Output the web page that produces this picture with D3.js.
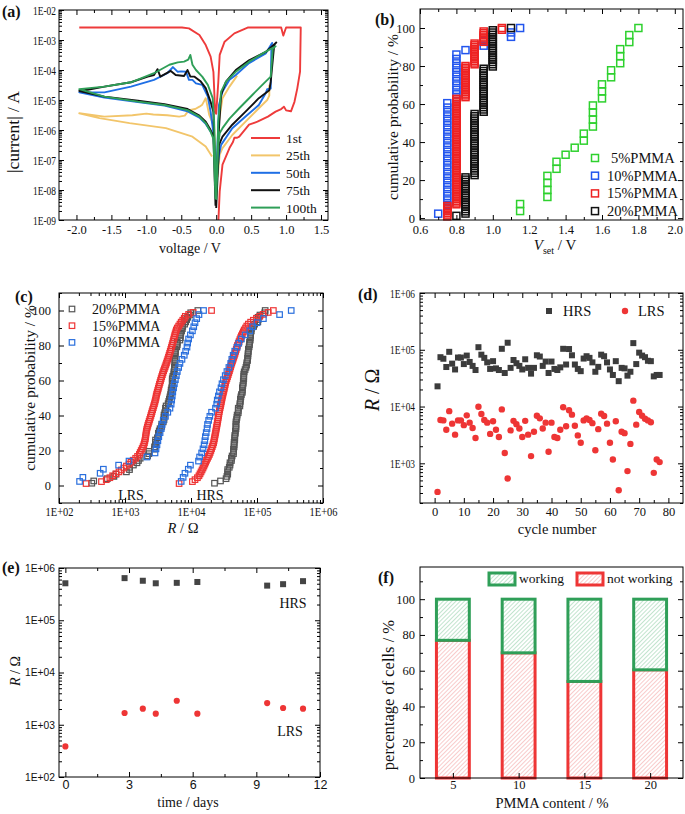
<!DOCTYPE html>
<html><head><meta charset="utf-8">
<script src="https://cdn.jsdelivr.net/npm/d3@7/dist/d3.min.js"></script>
<style>body{margin:0;background:#fff}</style>
</head><body><svg id="c" width="685" height="814" xmlns="http://www.w3.org/2000/svg"></svg>
<script>
// ---------------- DATA ----------------
// (a) I-V curves [V, |I|]
const iv1st = [[[-1.96,2.6e-3],[-0.49,2.6e-3],[-0.39,2.45e-3],[-0.24,1.47e-3],[-0.15,6.8e-4],[-0.08,2.8e-4],[-0.04,8.7e-5],[-0.015,4e-6],[0.0,3.5e-6],[0.03,4e-5],[0.05,3.2e-4],[0.12,8.8e-4],[0.26,1.66e-3],[0.45,2.6e-3],[0.93,2.6e-3],[0.96,1.4e-3],[1.0,2.6e-3],[1.21,2.6e-3],[1.2,8.8e-5],[1.16,2.4e-5],[1.12,8.7e-6],[1.07,4.2e-6],[1.0,4.5e-6],[0.97,6e-6],[0.93,5e-6],[0.85,4.1e-6],[0.74,2.8e-6],[0.59,1.9e-6],[0.47,1.5e-6],[0.33,6e-7],[0.3,5.5e-7],[0.26,5.5e-7],[0.24,4e-7],[0.19,2.5e-7],[0.09,7e-8],[0.05,9e-9],[0.03,8e-10]]];
const iv25th = [
 [[0.0,2e-8],[-0.03,1.3e-6],[-0.1,3.2e-6],[-0.15,1.15e-5],[-0.2,7e-6],[-0.24,6e-6],[-0.3,5e-6],[-0.39,4.6e-6],[-0.45,3e-6],[-0.53,2.8e-6],[-0.7,3.1e-6],[-0.9,3.3e-6],[-1.0,3.5e-6],[-1.2,3.1e-6],[-1.6,2.8e-6],[-1.96,3.6e-6],[-1.67,2.5e-6],[-1.24,1.7e-6],[-0.72,1.15e-6],[-0.34,6e-7],[-0.15,2.8e-7],[-0.06,1.3e-7]],
 [[0.0,2e-8],[0.02,3e-8],[0.05,1.5e-7],[0.09,2.5e-7],[0.23,6.8e-7],[0.42,1.9e-6],[0.61,5.3e-6],[0.73,1e-5],[0.76,1.4e-5],[0.76,3.2e-5]],
 [[0.01,5e-8],[0.04,2e-6],[0.09,1.15e-5],[0.19,2.8e-5],[0.3,6.5e-5]]
];
const iv50th = [[[0.005,2e-8],[0.04,1.5e-7],[0.07,3.2e-7],[0.23,1.15e-6],[0.42,2.8e-6],[0.61,6.8e-6],[0.71,1.7e-5],[0.73,2.3e-5],[0.78,2.4e-5],[0.79,6e-4],[0.8,8e-4],[0.71,3.6e-4],[0.47,1.7e-4],[0.28,6.8e-5],[0.19,4.7e-5],[0.09,1.9e-5],[0.04,6.9e-6],[0.01,1e-7],[-0.01,5e-8],[-0.04,8e-7],[-0.08,4e-6],[-0.12,1.3e-5],[-0.2,3.2e-5],[-0.29,3.6e-5],[-0.34,4.7e-5],[-0.39,4.7e-5],[-0.43,8.7e-5],[-0.5,9e-5],[-0.55,8.7e-5],[-0.62,1.25e-4],[-0.7,7.8e-5],[-0.89,4.7e-5],[-1.22,2.8e-5],[-1.6,1.8e-5],[-1.96,1.8e-5],[-1.6,1.2e-5],[-1.12,8.5e-6],[-0.74,6.5e-6],[-0.41,4.2e-6],[-0.24,2.6e-6],[-0.15,1.6e-6],[-0.08,9e-7],[-0.04,7e-7],[-0.01,3e-8]]];
const iv75th = [[[0.0,2.5e-9],[0.02,3e-8],[0.04,3.2e-7],[0.09,6e-7],[0.23,1.5e-6],[0.42,4.1e-6],[0.61,1.15e-5],[0.76,2.1e-5],[0.78,4e-5],[0.83,6.8e-4],[0.86,8.3e-4],[0.71,4e-4],[0.47,2.1e-4],[0.28,1e-4],[0.14,4.1e-5],[0.07,1.5e-5],[0.03,5e-7],[0.0,3e-9],[-0.04,4e-6],[-0.08,8.7e-6],[-0.15,2.5e-5],[-0.22,4.1e-5],[-0.31,6e-5],[-0.37,6e-5],[-0.41,1e-4],[-0.46,6.3e-5],[-0.58,6.8e-5],[-0.65,9.3e-5],[-0.8,6e-5],[-0.84,1.07e-4],[-0.89,6.8e-5],[-0.98,6e-5],[-1.22,3.9e-5],[-1.6,2.8e-5],[-1.84,2.2e-5],[-1.96,2e-5],[-1.6,1.3e-5],[-1.12,9.5e-6],[-0.74,7.2e-6],[-0.41,5e-6],[-0.24,3e-6],[-0.15,1.9e-6],[-0.08,1e-6],[-0.04,6e-7],[-0.01,3e-9]]];
const iv100th = [[[0.0,5e-9],[0.03,3.2e-7],[0.05,8e-7],[0.09,1.15e-6],[0.19,2.4e-6],[0.33,5.3e-6],[0.52,1.5e-5],[0.66,3.2e-5],[0.78,6e-5],[0.81,5.2e-4],[0.85,6.2e-4],[0.71,4.1e-4],[0.47,1.9e-4],[0.28,8.7e-5],[0.14,4.1e-5],[0.07,1.9e-5],[0.03,1.9e-6],[0.0,5e-9],[-0.03,2e-6],[-0.05,1.15e-5],[-0.12,3.2e-5],[-0.2,6e-5],[-0.29,1e-4],[-0.34,1.5e-4],[-0.37,3.2e-4],[-0.4,2.2e-4],[-0.46,1.9e-4],[-0.55,1.8e-4],[-0.67,1.5e-4],[-0.89,7.8e-5],[-1.22,3.9e-5],[-1.6,2.8e-5],[-1.96,2.3e-5],[-1.6,1.3e-5],[-1.12,8.8e-6],[-0.74,6.8e-6],[-0.41,4.6e-6],[-0.24,2.8e-6],[-0.15,1.7e-6],[-0.08,8.7e-7],[-0.04,5e-7],[-0.01,5e-9]]];
const ivNames = ["1st","25th","50th","75th","100th"];

// (b) set-voltage histograms (value, number of cells)
const vset5Values = [1.15,1.3,1.35,1.4,1.45,1.5,1.55,1.6,1.65,1.7,1.75,1.8];
const vset5Counts = [2,4,2,1,1,2,4,3,2,3,2,1];
const vset10Values = [0.7,0.75,0.8,0.85,0.95,1.1,1.15];
const vset10Counts = [1,25,11,1,2,2,1];
const vset15Values = [0.75,0.8,0.85,0.9,0.95,1.05];
const vset15Counts = [7,62,19,13,7,2];
const vset20Values = [0.8,0.85,0.9,0.95,1.0,1.1];
const vset20Counts = [1,17,28,20,17,1];

// (d) resistance vs cycle (20% PMMA)
const hrsCycle = [22700,74000,69500,49700,92000,57000,45000,73000,73000,56000,79000,61000,52000,44000,111000,82000,72000,60000,46000,63000,47000,44000,104000,39000,133000,48000,66000,58000,52000,45000,68000,48000,38000,48000,80000,76000,52000,62000,39000,62000,46000,44000,49000,104000,55000,103000,80000,55000,46000,42000,70000,77000,72000,60000,41000,50000,82000,77000,60000,45000,36000,63000,28000,48000,47000,35000,41000,131000,56000,89000,79000,74000,64000,63000,34000,36000,36000];
const lrsCycle = [314,5800,5700,3900,8300,5000,3200,5700,5700,4700,7000,5200,4200,2800,9900,7400,5800,5200,3300,5500,3900,2900,8900,1520,540,3800,5600,4900,4100,2900,5600,3200,1340,3600,6900,6200,4100,5200,1600,5200,2900,2800,3900,9700,4500,8600,7200,4600,3100,2300,5700,6200,5800,5100,1700,4000,7500,6800,5000,2300,1170,5500,336,3600,3400,730,2200,12700,4800,8000,6900,6100,5700,5300,680,1170,1050];

// (c) measured resistances, sorted (10% and 15% PMMA)
const lrs10 = [205,230,420,470,800,1150,2150,2850,2950,3050,3150,3250,3400,3550,3650,3800,4100,4450,4800,5000,5100,5200,5300,5450,5600,5800,6000,6200,6500,6800,7300,7900,8300,8700,8900,9200,9800,10500,11000,11500,12200,13200,15500];
const hrs10 = [7100,7600,8100,9100,9800,13000,13500,14500,15200,15800,16200,16500,17000,17500,17800,18500,19300,20500,23500,24500,25000,26000,27000,28500,29500,31000,33000,35000,37500,40000,41500,43500,46000,50000,53000,58000,66000,78000,86000,100000,125000,220000,330000];
const lrs15 = [257,440,520,590,650,730,810,880,960,1050,1150,1230,1330,1450,1550,1650,1700,1760,1820,1880,1930,1970,2000,2030,2050,2070,2090,2110,2140,2180,2220,2270,2320,2370,2420,2470,2520,2570,2620,2680,2730,2790,2840,2890,2940,2970,3020,3080,3140,3200,3260,3320,3390,3460,3530,3600,3680,3760,3850,3950,4050,4150,4250,4350,4450,4550,4650,4750,4850,4950,5050,5150,5250,5350,5450,5550,5650,5750,5880,6000,6200,6500,6800,7100,7500,7900,8200,9200,10800,20500];
const hrs15 = [6600,10500,11500,12500,13200,13700,14200,14700,15200,15700,16200,16700,17200,17800,18400,19000,19500,20000,20500,21000,21500,22000,22300,22600,22900,23200,23500,23800,24100,24400,24700,25000,25300,25600,25900,26200,26500,26800,27200,27600,28000,28400,28800,29200,29600,30000,30500,31000,31500,32000,32500,33000,33500,34200,35000,35800,36600,37400,38200,39000,39800,40600,41500,42500,43500,44500,45500,46500,47500,48500,49500,50500,52000,53500,55000,56500,58000,60000,62000,64000,67000,70000,74000,80000,88000,98000,110000,124000,148000,177000];

// (e) retention
const retDays = [0,2.79,3.65,4.26,5.25,6.22,9.51,10.26,11.2];
const retHRS = [510000,640000,570000,510000,520000,540000,460000,490000,560000];
const retLRS = [385,1680,2030,1630,2880,1630,2600,2090,2030];

// (f) yield
const pmmaContent = [5,10,15,20];
const notWorking = [77,70,54,60.5];
const working = [23,30,46,39.5];

// ---------------- DRAWING ----------------
const SERIF = "Liberation Serif, Times New Roman, serif";
const SANS = "Liberation Sans, Arial, sans-serif";
const svg = d3.select("#c");
svg.append("rect").attr("width",685).attr("height",814).attr("fill","#fff");
const defs = svg.append("defs");

function logFmt(v){const e=Math.round(Math.log10(v));return "1E"+(e<0?"-":"+")+String(Math.abs(e)).padStart(2,"0");}
function logMajor(s){return s.ticks().filter(v=>Math.abs(Math.log10(v)-Math.round(Math.log10(v)))<1e-9);}
function logMinor(s){return s.ticks().filter(v=>Math.abs(Math.log10(v)-Math.round(Math.log10(v)))>1e-9);}
const fix1 = d => d.toFixed(1);

function drawAxes(x,y,o){
  const [x0,x1]=x.range(), [yb,yt]=y.range();
  const g=svg.append("g");
  const add=(axis,tx,ty)=>{const a=g.append("g").attr("transform",`translate(${tx},${ty})`).call(axis);
    a.select(".domain").remove(); a.selectAll("line").attr("stroke","#000").attr("stroke-width",1); return a;};
  const xb=add(d3.axisBottom(x).tickValues(o.xMajor).tickSize(-5).tickPadding(o.xPad||5).tickFormat(o.xFmt),0,yb);
  add(d3.axisBottom(x).tickValues(o.xMinor||[]).tickSize(-3).tickFormat(""),0,yb);
  if(!o.noTop){
    add(d3.axisTop(x).tickValues(o.xMajor).tickSize(-5).tickFormat(""),0,yt);
    add(d3.axisTop(x).tickValues(o.xMinor||[]).tickSize(-3).tickFormat(""),0,yt);
  }
  const yl=add(d3.axisLeft(y).tickValues(o.yMajor).tickSize(-5).tickPadding(o.yPad||4).tickFormat(o.yFmt),x0,0);
  add(d3.axisLeft(y).tickValues(o.yMinor||[]).tickSize(-3).tickFormat(""),x0,0);
  add(d3.axisRight(y).tickValues(o.yMajor).tickSize(-5).tickFormat(""),x1,0);
  add(d3.axisRight(y).tickValues(o.yMinor||[]).tickSize(-3).tickFormat(""),x1,0);
  g.append("rect").attr("x",x0).attr("y",yt).attr("width",x1-x0).attr("height",yb-yt).attr("fill","none").attr("stroke","#000").attr("stroke-width",1);
  xb.selectAll("text").attr("font-family",o.xFont||SERIF).attr("font-size",o.xSize||12.5).attr("fill","#111");
  yl.selectAll("text").attr("font-family",o.yFont||SERIF).attr("font-size",o.ySize||12.5).attr("fill","#111");
  if(o.xLen) xb.selectAll("text").attr("textLength",o.xLen).attr("lengthAdjust","spacingAndGlyphs");
  if(o.yLen) yl.selectAll("text").attr("textLength",o.yLen).attr("lengthAdjust","spacingAndGlyphs");
  return g;
}
function label(t,x,y,size,opts={}){
  const el=svg.append("text").attr("x",x).attr("y",y).attr("font-family",opts.font||SERIF).attr("font-size",size)
   .attr("fill","#111").attr("text-anchor",opts.anchor||"start").text(t);
  if(opts.bold) el.attr("font-weight","bold");
  if(opts.rotate) el.attr("transform",`rotate(-90,${x},${y})`);
  return el;
}
function rLabel(x,y,size,rotate){
  const el=svg.append("text").attr("x",x).attr("y",y).attr("font-family",SERIF).attr("font-size",size).attr("fill","#111").attr("text-anchor","middle");
  if(rotate) el.attr("transform",`rotate(-90,${x},${y})`);
  el.append("tspan").attr("font-style","italic").text("R");
  el.append("tspan").text(" / Ω");
}
function clip(id,x,y){const [x0,x1]=x.range(),[yb,yt]=y.range();
  defs.append("clipPath").attr("id",id).append("rect").attr("x",x0).attr("y",yt).attr("width",x1-x0).attr("height",yb-yt);}
function cumul(values,counts){const N=d3.sum(counts);let c=0;const out=[];
  values.forEach((v,i)=>{for(let k=0;k<counts[i];k++){c++;out.push([v,c/N*100]);}});return out;}
function cumulSorted(arr){const s=arr.slice().sort((a,b)=>a-b);return s.map((v,i)=>[v,(i+1)/s.length*100]);}

// ---------- (a) ----------
{
 const x=d3.scaleLinear([-2.25,1.6],[59,328]);
 const y=d3.scaleLog([1e-9,1e-2],[220,10]);
 clip("clipA",x,y);
 const cols=["#ee3b3b","#f2c56a","#1f6fe5","#111111","#2f9f58"];
 const sets=[iv1st,iv25th,iv50th,iv75th,iv100th];
 const line=d3.line().x(d=>x(d[0])).y(d=>y(Math.max(d[1],1e-10)));
 const gp=svg.append("g").attr("clip-path","url(#clipA)");
 sets.forEach((segs,i)=>segs.forEach(s=>gp.append("path").attr("d",line(s)).attr("fill","none").attr("stroke",cols[i]).attr("stroke-width",1.9).attr("stroke-linejoin","round")));
 drawAxes(x,y,{xMajor:[-2,-1.5,-1,-0.5,0,0.5,1,1.5],xMinor:[-1.75,-1.25,-0.75,-0.25,0.25,0.75,1.25],xFmt:fix1,
   yMajor:logMajor(y),yMinor:logMinor(y),yFmt:logFmt,ySize:12.5,yLen:23,yPad:3,xSize:12.5});
 ivNames.forEach((n,i)=>{const yy=138+i*17.4;
   svg.append("line").attr("x1",251).attr("x2",280).attr("y1",yy).attr("y2",yy).attr("stroke",cols[i]).attr("stroke-width",2);
   label(n,286,yy+5,13.5);});
 label("voltage / V",190,253,14,{anchor:"middle"});
 label("|current| / A",19,132,17.5,{anchor:"middle",rotate:true});
 label("(a)",2,17,16,{bold:true});
}
// ---------- (b) ----------
{
 const x=d3.scaleLinear([0.6,2.045],[420,683]);
 const y=d3.scaleLinear([-1,110],[220,9]);
 const cols=["#2ed12e","#2255ee","#ee2222","#111111"];
 const sets=[cumul(vset5Values,vset5Counts),cumul(vset10Values,vset10Counts),cumul(vset15Values,vset15Counts),cumul(vset20Values,vset20Counts)];
 const s=7;
 sets.forEach((pts,i)=>svg.append("g").selectAll("rect").data(pts).join("rect")
   .attr("x",d=>x(d[0])-s/2).attr("y",d=>y(d[1])-s/2).attr("width",s).attr("height",s)
   .attr("fill","none").attr("stroke",cols[i]).attr("stroke-width",1.5));
 drawAxes(x,y,{xMajor:[0.6,0.8,1.0,1.2,1.4,1.6,1.8,2.0],xMinor:[0.7,0.9,1.1,1.3,1.5,1.7,1.9],xFmt:fix1,
   yMajor:[0,20,40,60,80,100],yMinor:[10,30,50,70,90],yFmt:d3.format("d"),yPad:5,xSize:12.5,ySize:12.5});
 ["5%PMMA","10%PMMA","15%PMMA","20%PMMA"].forEach((n,i)=>{const yy=158+i*17.7;
   svg.append("rect").attr("x",595-s/2).attr("y",yy-s/2).attr("width",s).attr("height",s).attr("fill","none").attr("stroke",cols[i]).attr("stroke-width",1.5);
   label(n,i==0?611:607,yy+5,14.5);});
 const t=svg.append("text").attr("x",555).attr("y",250).attr("font-family",SERIF).attr("font-size",15).attr("fill","#111").attr("text-anchor","middle");
 t.append("tspan").attr("font-style","italic").text("V");
 t.append("tspan").attr("font-size",10).attr("dy",4).text("set");
 t.append("tspan").attr("dy",-4).text(" / V");
 label("cumulative probability / %",398,117,15.5,{anchor:"middle",rotate:true});
 label("(b)",375,25,16,{bold:true});
}
// ---------- (c) ----------
{
 const x=d3.scaleLog([1e2,1e6],[59,323]);
 const y=d3.scaleLinear([-10,110],[503,293]);
 const cols=["#555555","#ee3535","#2a6fdd"];
 const sets=[[cumulSorted(lrsCycle),cumulSorted(hrsCycle)],[cumulSorted(lrs15),cumulSorted(hrs15)],[cumulSorted(lrs10),cumulSorted(hrs10)]];
 const s=5.5;
 sets.forEach((pair,i)=>pair.forEach(pts=>svg.append("g").selectAll("rect").data(pts).join("rect")
   .attr("x",d=>x(d[0])-s/2).attr("y",d=>y(d[1])-s/2).attr("width",s).attr("height",s)
   .attr("fill","none").attr("stroke",cols[i]).attr("stroke-width",1.2)));
 drawAxes(x,y,{xMajor:logMajor(x),xMinor:logMinor(x),xFmt:logFmt,xSize:12.5,xLen:28,xPad:4,
   yMajor:[0,20,40,60,80,100],yMinor:[-10,10,30,50,70,90,110],yFmt:d3.format("d"),yPad:8,ySize:12.5});
 ["20%PMMA","15%PMMA","10%PMMA"].forEach((n,i)=>{const yy=309+i*16.7;
   svg.append("rect").attr("x",72-s/2).attr("y",yy-s/2).attr("width",s).attr("height",s).attr("fill","none").attr("stroke",cols[i]).attr("stroke-width",1.2);
   label(n,92,yy+5,14);});
 label("LRS",131,500,14,{anchor:"middle"});
 label("HRS",210,500,14,{anchor:"middle"});
 rLabel(183,533,14.5,false);
 label("cumulative probability / %",35,388,15.5,{anchor:"middle",rotate:true});
 label("(c)",15,302,16,{bold:true});
}
// ---------- (d) ----------
{
 const x=d3.scaleLinear([-5,85],[420,683]);
 const y=d3.scaleLog([200,1e6],[503,293]);
 const cyc=hrsCycle.map((d,i)=>i+1);
 svg.append("g").selectAll("rect").data(cyc).join("rect")
   .attr("x",(d,i)=>x(d)-3).attr("y",(d,i)=>y(hrsCycle[i])-3).attr("width",6).attr("height",6).attr("fill","#3c3c3c");
 svg.append("g").selectAll("circle").data(cyc).join("circle")
   .attr("cx",d=>x(d)).attr("cy",(d,i)=>y(lrsCycle[i])).attr("r",3.2).attr("fill","#ee3535");
 drawAxes(x,y,{xMajor:[0,10,20,30,40,50,60,70,80],xMinor:[5,15,25,35,45,55,65,75],xFmt:d3.format("d"),xPad:4,
   yMajor:[1e3,1e4,1e5,1e6],yMinor:logMinor(y),yFmt:logFmt,ySize:12.5,yLen:25,yPad:5,xSize:12.5});
 svg.append("rect").attr("x",546).attr("y",308).attr("width",6).attr("height",6).attr("fill","#3c3c3c");
 label("HRS",563,316,14.5);
 svg.append("circle").attr("cx",625).attr("cy",311).attr("r",3.2).attr("fill","#ee3535");
 label("LRS",638,316,14.5);
 label("cycle number",557,534,14.5,{anchor:"middle"});
 rLabel(379,390,20,true);
 label("(d)",358,300,16,{bold:true});
}
// ---------- (e) ----------
{
 const x=d3.scaleLinear([-0.3,12],[59,320]);
 const y=d3.scaleLog([1e2,1e6],[777,568]);
 svg.append("g").selectAll("rect").data(retDays).join("rect")
   .attr("x",d=>x(d)-3).attr("y",(d,i)=>y(retHRS[i])-3).attr("width",6).attr("height",6).attr("fill","#444");
 svg.append("g").selectAll("circle").data(retDays).join("circle")
   .attr("cx",d=>x(d)).attr("cy",(d,i)=>y(retLRS[i])).attr("r",3.1).attr("fill","#ee3535");
 drawAxes(x,y,{xMajor:[0,3,6,9,12],xMinor:[1.5,4.5,7.5,10.5],xFmt:d3.format("d"),xFont:SANS,xSize:12.5,xPad:3,
   yMajor:logMajor(y),yMinor:logMinor(y),yFmt:logFmt,yFont:SANS,ySize:10.5,yLen:30,yPad:4});
 label("HRS",293,608,14,{anchor:"middle"});
 label("LRS",290,736,14,{anchor:"middle"});
 label("time / days",188,807,14,{anchor:"middle"});
 rLabel(20,671,14,true);
 label("(e)",2,573,16,{bold:true});
}
// ---------- (f) ----------
{
 const x=d3.scaleLinear([2.5,22.5],[420,683]);
 const y=d3.scaleLinear([0,118],[778,567]);
 const mkPat=(id,col)=>{const p=defs.append("pattern").attr("id",id).attr("patternUnits","userSpaceOnUse").attr("width",3).attr("height",3).attr("patternTransform","rotate(45)");
   p.append("rect").attr("width",3).attr("height",3).attr("fill","#fff");
   p.append("line").attr("x1",0).attr("y1",0).attr("x2",0).attr("y2",3).attr("stroke",col).attr("stroke-width",1.1);};
 mkPat("hatchG","#8fcfa6"); mkPat("hatchR","#f3a0a0");
 const bw=x(2.5+2.5)-x(2.5);
 const gR="#2f9f58", rR="#ee3535";
 pmmaContent.forEach((c,i)=>{
   svg.append("rect").attr("x",x(c)-bw/2).attr("y",y(notWorking[i])).attr("width",bw).attr("height",y(0)-y(notWorking[i]))
     .attr("fill","url(#hatchR)").attr("stroke",rR).attr("stroke-width",3);
   svg.append("rect").attr("x",x(c)-bw/2).attr("y",y(notWorking[i]+working[i])).attr("width",bw).attr("height",y(notWorking[i])-y(notWorking[i]+working[i]))
     .attr("fill","url(#hatchG)").attr("stroke",gR).attr("stroke-width",3);
 });
 drawAxes(x,y,{xMajor:pmmaContent,xMinor:[],xFmt:d3.format("d"),xPad:2,noTop:true,yMajor:[0,20,40,60,80,100],yMinor:[10,30,50,70,90,110],yFmt:d3.format("d"),yPad:5,xSize:12.5,ySize:12.5});
 svg.append("rect").attr("x",489).attr("y",573).attr("width",26).attr("height",12).attr("fill","url(#hatchG)").attr("stroke",gR).attr("stroke-width",3);
 label("working",519,583,13.5);
 svg.append("rect").attr("x",577).attr("y",573).attr("width",26).attr("height",12).attr("fill","url(#hatchR)").attr("stroke",rR).attr("stroke-width",3);
 label("not working",607,583,13.5);
 label("PMMA content / %",552,808,14.5,{anchor:"middle"});
 label("percentage of cells / %",394,695,16.5,{anchor:"middle",rotate:true});
 label("(f)",378,583,16,{bold:true});
}
</script></body></html>
